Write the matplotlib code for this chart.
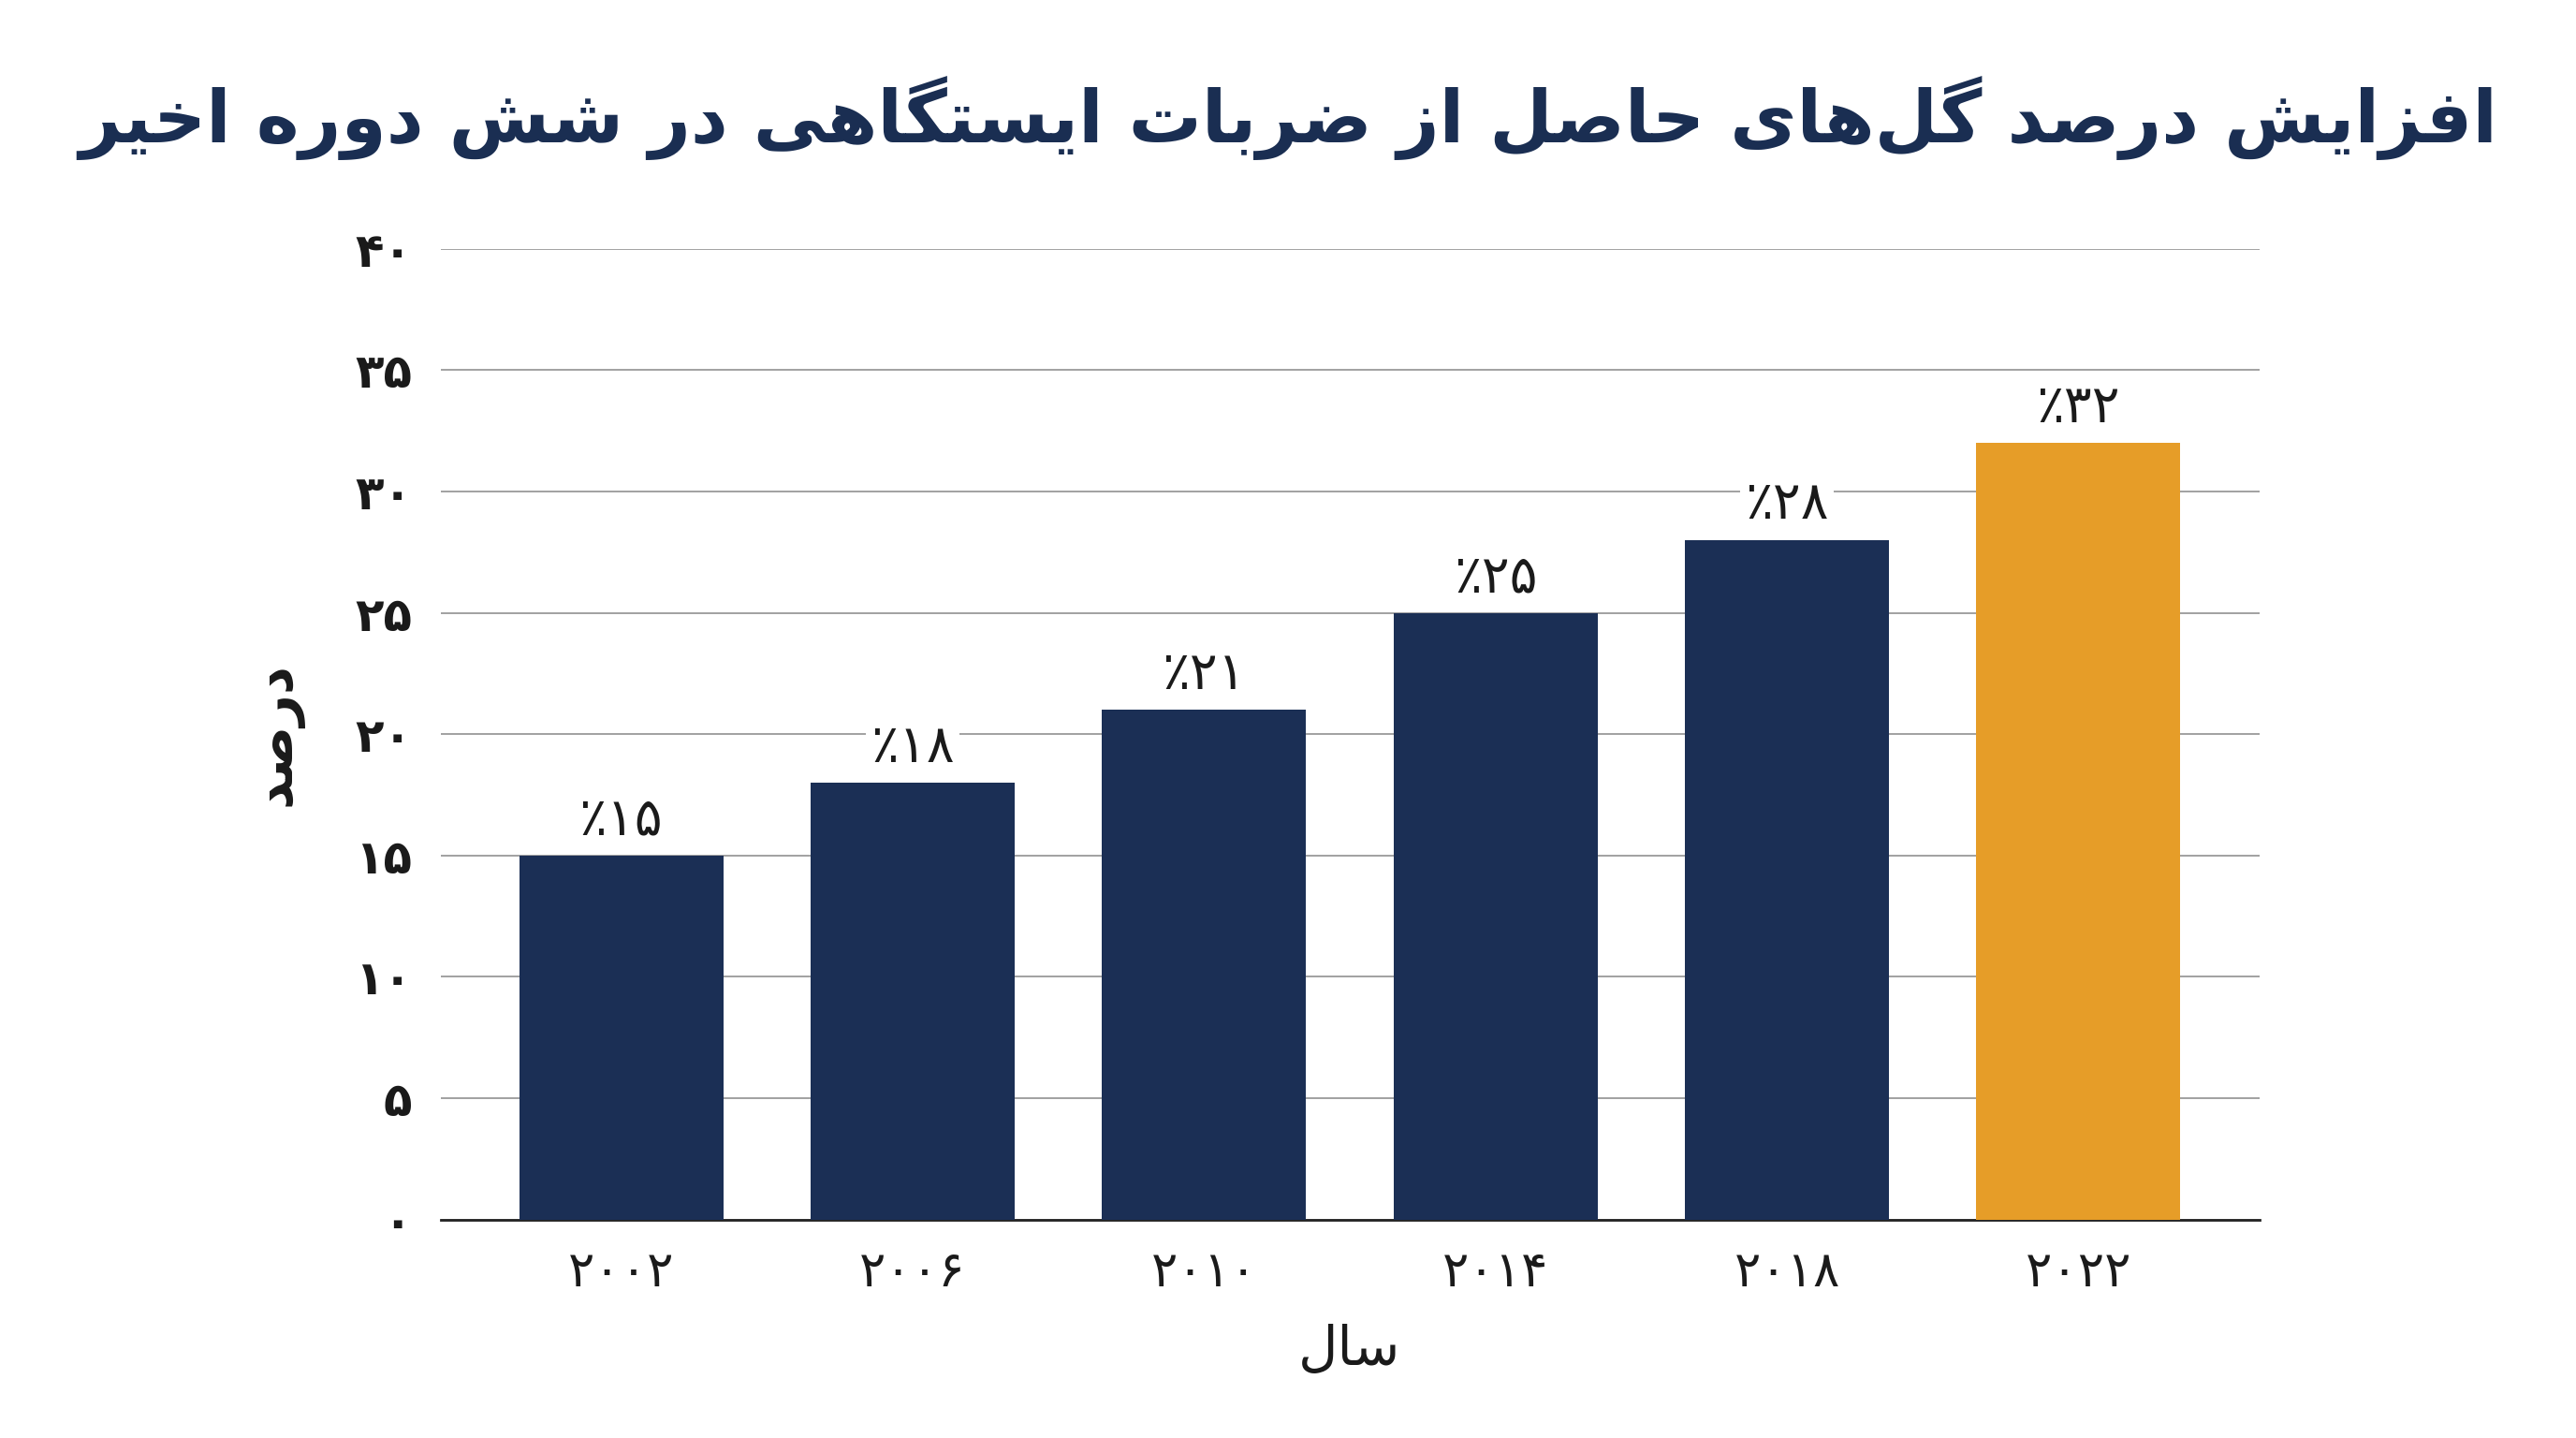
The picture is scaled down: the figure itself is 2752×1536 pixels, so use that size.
import matplotlib
matplotlib.use("Agg")
import matplotlib.pyplot as plt

# minimal Arabic/Persian shaper: isolated, final, initial, medial
FORMS = {
    'ا': (0xFE8D, 0xFE8E, None, None), 'ب': (0xFE8F, 0xFE90, 0xFE91, 0xFE92),
    'ت': (0xFE95, 0xFE96, 0xFE97, 0xFE98), 'ح': (0xFEA1, 0xFEA2, 0xFEA3, 0xFEA4),
    'خ': (0xFEA5, 0xFEA6, 0xFEA7, 0xFEA8), 'د': (0xFEA9, 0xFEAA, None, None),
    'ر': (0xFEAD, 0xFEAE, None, None), 'ز': (0xFEAF, 0xFEB0, None, None),
    'س': (0xFEB1, 0xFEB2, 0xFEB3, 0xFEB4), 'ش': (0xFEB5, 0xFEB6, 0xFEB7, 0xFEB8),
    'ص': (0xFEB9, 0xFEBA, 0xFEBB, 0xFEBC), 'ض': (0xFEBD, 0xFEBE, 0xFEBF, 0xFEC0),
    'ع': (0xFEC9, 0xFECA, 0xFECB, 0xFECC), 'ف': (0xFED1, 0xFED2, 0xFED3, 0xFED4),
    'ل': (0xFEDD, 0xFEDE, 0xFEDF, 0xFEE0), 'م': (0xFEE1, 0xFEE2, 0xFEE3, 0xFEE4),
    'ن': (0xFEE5, 0xFEE6, 0xFEE7, 0xFEE8), 'ه': (0xFEE9, 0xFEEA, 0xFEEB, 0xFEEC),
    'و': (0xFEED, 0xFEEE, None, None), 'ی': (0xFBFC, 0xFBFD, 0xFBFE, 0xFBFF),
    'گ': (0xFB92, 0xFB93, 0xFB94, 0xFB95), 'ک': (0xFB8E, 0xFB8F, 0xFB90, 0xFB91),
}


def dual(c):
    return c in FORMS and FORMS[c][2] is not None


def shape(s):
    out = []
    for i, c in enumerate(s):
        if c not in FORMS:
            out.append(c)
            continue
        prev = s[i - 1] if i > 0 else ''
        nxt = s[i + 1] if i + 1 < len(s) else ''
        jp = dual(prev)
        jn = dual(c) and nxt in FORMS
        f = FORMS[c]
        if jp and jn:
            out.append(chr(f[3]))
        elif jp:
            out.append(chr(f[1]))
        elif jn:
            out.append(chr(f[2]))
        else:
            out.append(chr(f[0]))
    return ''.join(out).replace('\u200c', '')[::-1]


title = 'افزایش درصد گل\u200cهای حاصل از ضربات ایستگاهی در شش دوره اخیر'
xlabel = 'سال'
ylabel = 'درصد'
years = ['۲۰۰۲', '۲۰۰۶', '۲۰۱۰', '۲۰۱۴', '۲۰۱۸', '۲۰۲۲']
values = [15, 18, 21, 25, 28, 32]
value_labels = ['٪۱۵', '٪۱۸', '٪۲۱', '٪۲۵', '٪۲۸', '٪۳۲']
yticks = [0, 5, 10, 15, 20, 25, 30, 35, 40]
ytick_labels = ['۰', '۵', '۱۰', '۱۵', '۲۰', '۲۵', '۳۰', '۳۵', '۴۰']

navy = '#1b2f55'
orange = '#e69d28'
plt.rcParams['font.family'] = ['DejaVu Sans']

fig = plt.figure(figsize=(27.52, 15.36), dpi=100)
ax = fig.add_axes([0.171, 0.152, 0.706, 0.675])
colors = [navy] * 5 + [orange]
x = list(range(len(years)))
bars = ax.bar(x, values, width=0.7, color=colors, zorder=3)
for b, lab in zip(bars, value_labels):
    ax.text(b.get_x() + b.get_width() / 2, b.get_height() + 0.4, lab,
            ha='center', va='bottom', fontsize=40, color='#1a1a1a', zorder=4,
            bbox=dict(facecolor='white', edgecolor='none', pad=4))

ax.set_xlim(-0.62, 5.62)
ax.set_ylim(0, 40)
ax.set_yticks(yticks)
ax.set_yticklabels(ytick_labels, fontsize=36, fontweight='bold', color='#1a1a1a')
ax.set_xticks(x)
ax.set_xticklabels(years, fontsize=38, color='#1a1a1a')
ax.tick_params(axis='both', length=0, pad=22)
ax.grid(axis='y', color='#9a9a9a', linewidth=1.3, zorder=0)
for s in ['top', 'right', 'left']:
    ax.spines[s].set_visible(False)
ax.spines['bottom'].set_color('#222222')
ax.spines['bottom'].set_linewidth(2)
ax.set_xlabel(shape(xlabel), fontsize=42, color='#1a1a1a', labelpad=20)
ax.set_ylabel(shape(ylabel), fontsize=42, fontweight='bold', color='#1a1a1a', labelpad=40)
fig.text(0.5, 0.918, shape(title), ha='center', va='center', fontsize=56,
         fontweight='bold', color='#1a2e52')

fig.savefig('out.png', dpi=100, facecolor='white')
